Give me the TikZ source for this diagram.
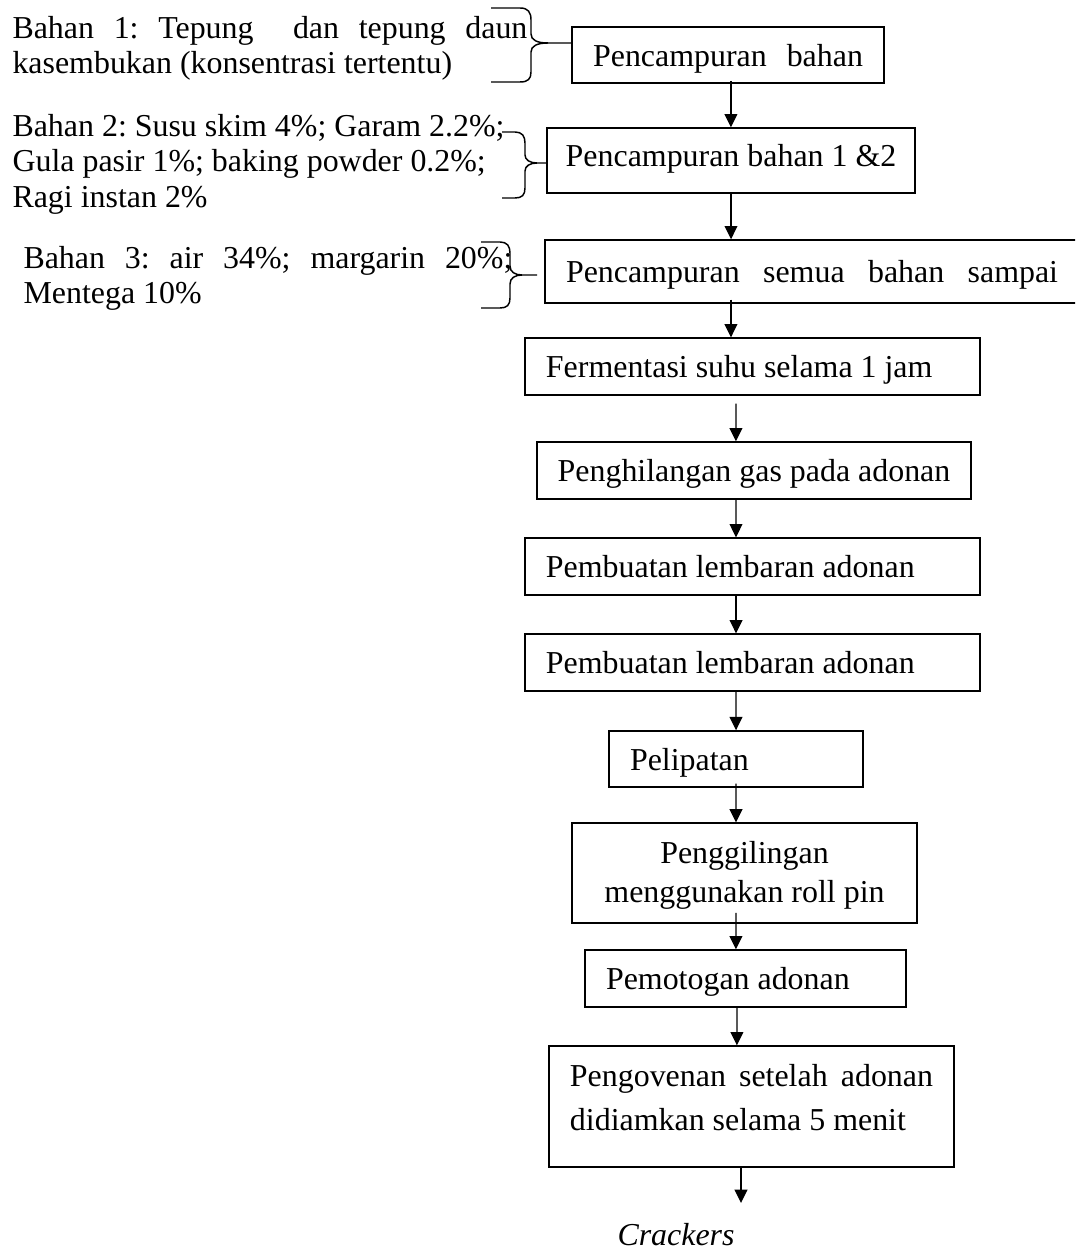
\documentclass[tikz,border=0pt]{standalone}
\usepackage{fontspec}
\setmainfont{Liberation Serif}
\usetikzlibrary{arrows.meta}

\tikzset{
    kotak/.style={draw, line width=0.5pt, inner sep=0pt},
    baris/.style={text height=8.6pt, text depth=0pt},
    kiri/.style={align=flush left, inner xsep=7.9pt},
    ket/.style={anchor=north west, inner sep=0pt, align=flush left},
    panah/.style={line width=0.5pt, -{Triangle[length=5pt,width=4.8pt]}},
    kurung/.style={line width=0.55pt}
}

\begin{document}
\begin{tikzpicture}[x=0.376pt, y=-0.376pt, font=\fontsize{12pt}{13.3pt}\selectfont\frenchspacing]
    \useasboundingbox (0,0) rectangle (1075,1248);
    \clip (0,0) rectangle (1075,1248);

    \node[ket] (bahan1) at (12,13.2) {\strut\makebox[193.6pt][s]{Bahan 1: Tepung\ \ dan tepung daun}\\kasembukan (konsentrasi tertentu)};
    \node[ket] (bahan2) at (12,111.2) {\strut Bahan 2: Susu skim 4\%; Garam 2.2\%;\\Gula pasir 1\%; baking powder 0.2\%;\\Ragi instan 2\%};
    \node[ket] (bahan3) at (23,243.2) {\strut\makebox[183.8pt][s]{Bahan 3: air 34\%; margarin 20\%;}\\Mentega 10\%};

    \node[kotak, baris, minimum width=117.3pt, minimum height=21.1pt] (b1) at (728,55) {Pencampuran\hspace{7.5pt}bahan};
    \node[kotak, text height=4.6pt, text depth=0pt, minimum width=138.4pt, minimum height=24.4pt] (b2) at (731,160.5) {Pencampuran bahan 1 \&2};
    \node[kotak, baris, kiri, text width=200.4pt, minimum height=23.7pt] (b3) at (832.5,271.5) {\makebox[185pt][s]{Pencampuran semua bahan sampai}};
    \node[kotak, baris, kiri, text width=155.3pt, minimum height=21.4pt] (b4) at (752.5,366.5) {Fermentasi suhu selama 1 jam};
    \node[kotak, baris, minimum width=163.2pt, minimum height=21.4pt] (b5) at (754,470.5) {Penghilangan gas pada adonan};
    \node[kotak, baris, kiri, text width=155.3pt, minimum height=21.4pt] (b6) at (752.5,566.5) {Pembuatan lembaran adonan};
    \node[kotak, baris, kiri, text width=155.3pt, minimum height=21.4pt] (b7) at (752.5,662.5) {Pembuatan lembaran adonan};
    \node[kotak, baris, kiri, text width=79.7pt, minimum height=21.1pt] (b8) at (736,759) {Pelipatan};
    \node[kotak, align=flush center, minimum width=129.7pt, font=\fontsize{12pt}{15pt}\selectfont] (b9) at (744.5,873) {\rule{0pt}{15pt}Penggilingan\\menggunakan roll pin\rule[-7.5pt]{0pt}{7.5pt}};
    \node[kotak, baris, kiri, text width=104.9pt, minimum height=21.4pt] (b10) at (745.5,978.5) {Pemotogan adonan};
    \node[kotak, kiri, text width=136.5pt, font=\fontsize{12pt}{16.3pt}\selectfont] (b11) at (751.5,1106.5) {\rule{0pt}{15.3pt}\makebox[136.5pt][s]{Pengovenan setelah adonan}\\didiamkan selama 5 menit\rule[-13.9pt]{0pt}{13.9pt}};
    \node[anchor=base, inner sep=0pt, font=\fontsize{12pt}{13.3pt}\selectfont\itshape] (hasil) at (676,1245) {Crackers};
    \coordinate (ujung) at (741,1203);

    \draw[kurung] (491,8) -- (520,8) .. controls (528,8) and (531,12) .. (531,20) -- (531,34)
        .. controls (531,40) and (537,43) .. (548,43) -- (572,43);
    \draw[kurung] (548,43) .. controls (537,43) and (531,46) .. (531,52) -- (531,72)
        .. controls (531,79) and (528,82) .. (520,82) -- (491,82);
    \draw[kurung] (502,132) -- (515,132) .. controls (522,132) and (525,136) .. (525,143) -- (525,155)
        .. controls (525,160) and (530,163) .. (537,163) -- (547,163);
    \draw[kurung] (537,163) .. controls (530,163) and (525,166) .. (525,171) -- (525,188)
        .. controls (525,195) and (522,198) .. (515,198) -- (502,198);
    \draw[kurung] (481,242) -- (500,242) .. controls (507,242) and (510,246) .. (510,253) -- (510,266)
        .. controls (510,272) and (515,275) .. (522,275) -- (537,275);
    \draw[kurung] (522,275) .. controls (515,275) and (510,278) .. (510,284) -- (510,298)
        .. controls (510,305) and (507,308) .. (500,308) -- (481,308);

    \draw[panah] ([xshift=1.1pt,yshift=1.1pt]b1.south) -- ([xshift=1.1pt]b1.south |- b2.north);
    \draw[panah] (b2.south) -- (b2.south |- b3.north);
    \draw[panah] ([xshift=-8.1pt,yshift=1.5pt]b4.north |- b3.south) -- ([xshift=-8.1pt]b4.north);
    \draw[panah] ([xshift=-6.2pt,yshift=-3pt]b4.south) -- ([xshift=-6.8pt]b5.north);
    \draw[panah] ([xshift=-6.8pt]b5.south) -- ([xshift=-6.2pt]b6.north);
    \draw[panah] ([xshift=-6.2pt]b6.south) -- ([xshift=-6.2pt]b7.north);
    \draw[panah] ([xshift=-6.2pt]b7.south) -- (b8.north);
    \draw[panah] ([yshift=1.5pt]b8.south) -- ([xshift=-3.2pt]b9.north);
    \draw[panah] ([xshift=-3.2pt,yshift=4pt]b9.south) -- ([xshift=-3.6pt]b10.north);
    \draw[panah] ([xshift=-3.2pt]b10.south) -- ([xshift=-5.5pt]b11.north);
    \draw[panah] (ujung |- b11.south) -- (ujung);
\end{tikzpicture}
\end{document}
